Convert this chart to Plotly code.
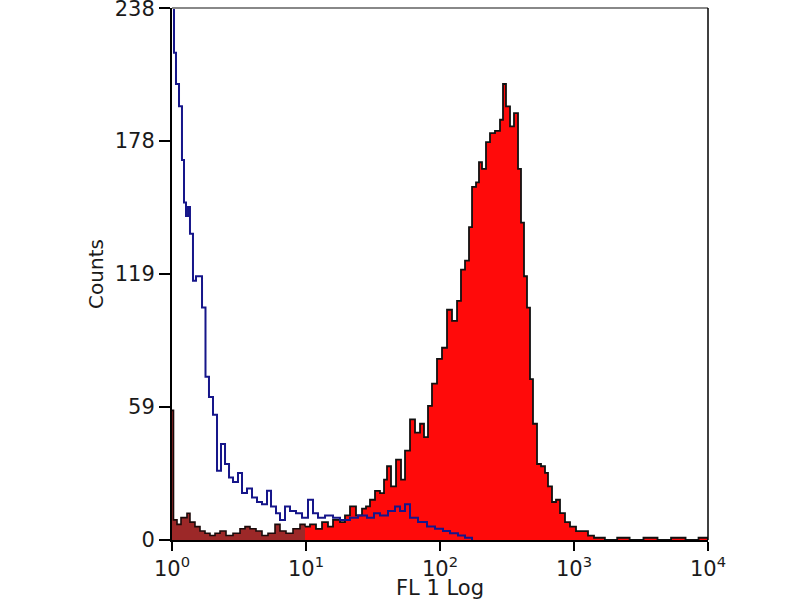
import plotly.graph_objects as go

# ---- data (FL1 channel value, counts) ----
neg_fl1 = [1.000, 1.035, 1.071, 1.128, 1.187, 1.229, 1.272, 1.317, 1.362, 1.434,
           1.510, 1.675, 1.778, 1.888, 2.023, 2.167, 2.321, 2.487, 2.664, 2.853,
           3.108, 3.330, 3.628, 3.954, 4.308, 4.695, 5.117, 5.482, 5.973, 6.397,
           6.970, 7.596, 8.42, 9.34, 10.35, 11.28, 12.29, 13.87, 15.91, 17.94,
           21.30, 24.43, 28.52, 32.18, 35.66, 40.92, 46.15, 50.29, 54.81, 59.73,
           68.52, 79.98, 91.78, 105.3, 118.8, 136.2, 153.7, 173.4]
neg_counts = [238, 218, 204, 194, 170, 151, 145, 149, 137, 116,
              118, 104, 73, 64, 56, 31, 43, 34, 28, 26,
              30, 21, 23, 19, 17, 16, 22, 15, 12, 9,
              15, 13, 12, 10, 18, 12, 10, 11, 10, 9,
              10, 11, 10, 12, 11, 13, 15, 13, 16, 10,
              8, 6, 5, 4, 3, 2, 1, 0]

low_fl1 = [1.000, 1.026, 1.090, 1.167, 1.294, 1.362, 1.484, 1.618, 1.763, 1.921,
           2.094, 2.282, 2.529, 2.853, 3.218, 3.506, 3.821, 4.236, 4.695, 5.205,
           5.871, 6.397, 7.092, 7.998, 9.02, 9.83]
low_counts = [58, 9, 7, 10, 12, 8, 6, 4, 3, 2,
              3, 4, 2, 3, 5, 6, 5, 4, 2, 3,
              7, 4, 3, 5, 7, 6]

pos_fl1 = [9.83, 10.71, 11.87, 13.17, 14.59, 15.91, 17.94, 19.54, 21.30, 23.61,
           26.18, 28.04, 30.03, 32.73, 35.66, 38.21, 40.22, 43.09, 46.96, 51.17,
           54.81, 59.73, 65.09, 70.93, 75.96, 81.36, 87.14, 94.96, 103.5, 112.8,
           122.9, 134.0, 143.4, 153.7, 164.6, 173.4, 185.7, 195.4, 205.8, 220.4,
           236.1, 257.3, 280.4, 295.2, 310.8, 333.0, 356.6, 382.1, 402.2, 423.5,
           445.9, 469.5, 494.3, 529.6, 567.2, 607.5, 639.7, 685.2, 734.0, 786.3,
           856.6, 933.5, 1035, 1147, 1272, 1410, 1700, 2100, 2600, 3300,
           4200, 5300, 6800, 8500, 10000]
pos_counts = [6, 7, 5, 8, 6, 9, 8, 11, 15, 11,
              14, 15, 18, 22, 21, 27, 33, 24, 36, 27,
              40, 54, 48, 52, 46, 60, 70, 81, 86, 103,
              98, 107, 121, 125, 140, 158, 160, 169, 166, 178,
              182, 183, 188, 204, 194, 185, 191, 166, 142, 118,
              104, 72, 52, 34, 33, 30, 24, 17, 18, 12,
              8, 6, 4, 4, 2, 1, 0, 1, 0, 1,
              0, 1, 0, 1, 0]

y_tickvals = [0, 59.5, 119, 178.5, 237.9]
y_ticktext = ["0", "59", "119", "178", "238"]
x_tickvals = [1, 10, 100, 1000, 10000]
x_ticktext = ["10<sup>0</sup>", "10<sup>1</sup>", "10<sup>2</sup>", "10<sup>3</sup>", "10<sup>4</sup>"]

fig = go.Figure()
fig.add_trace(go.Scatter(x=low_fl1, y=low_counts, mode="lines", line_shape="hv",
                         fill="tozeroy", fillcolor="#9c2828",
                         line=dict(color="#1a0a0a", width=1.6), hoverinfo="skip"))
fig.add_trace(go.Scatter(x=pos_fl1, y=pos_counts, mode="lines", line_shape="hv",
                         fill="tozeroy", fillcolor="#ff0a0a",
                         line=dict(color="#111111", width=1.8), hoverinfo="skip"))
fig.add_trace(go.Scatter(x=neg_fl1, y=neg_counts, mode="lines", line_shape="hv",
                         line=dict(color="#16168a", width=2),
                         hoverinfo="skip"))

font = "DejaVu Sans, Liberation Sans, Arial, sans-serif"
fig.update_layout(
    width=800, height=600,
    margin=dict(l=172, r=92, t=8, b=60),
    paper_bgcolor="white", plot_bgcolor="white",
    showlegend=False,
    font=dict(family=font, size=21, color="#1a1a1a"),
    xaxis=dict(type="log", range=[0, 4], tickvals=x_tickvals, ticktext=x_ticktext,
               ticks="outside", ticklen=9, tickwidth=1.5, tickcolor="black",
               showline=True, linecolor="black", linewidth=2, showgrid=False,
               zeroline=False, automargin=False,
               title=dict(text="FL 1 Log", font=dict(size=21), standoff=2),
               tickfont=dict(size=21)),
    yaxis=dict(range=[0, 238], tickvals=y_tickvals, ticktext=y_ticktext,
               ticks="outside", ticklen=11, tickwidth=1.5, tickcolor="black",
               showline=True, linecolor="black", linewidth=2, showgrid=False,
               zeroline=False, automargin=False, ticklabeloverflow="allow",
               title=dict(text="Counts", font=dict(size=20), standoff=6),
               tickfont=dict(size=21)),
    shapes=[
        dict(type="line", xref="paper", yref="paper", x0=0, x1=1, y0=1, y1=1,
             line=dict(color="#888888", width=2)),
        dict(type="line", xref="paper", yref="paper", x0=1, x1=1, y0=0, y1=1,
             line=dict(color="black", width=1.5)),
    ],
)

fig.write_html("out.html", config={"displayModeBar": False},
               post_script="document.body.style.margin='0px';")
